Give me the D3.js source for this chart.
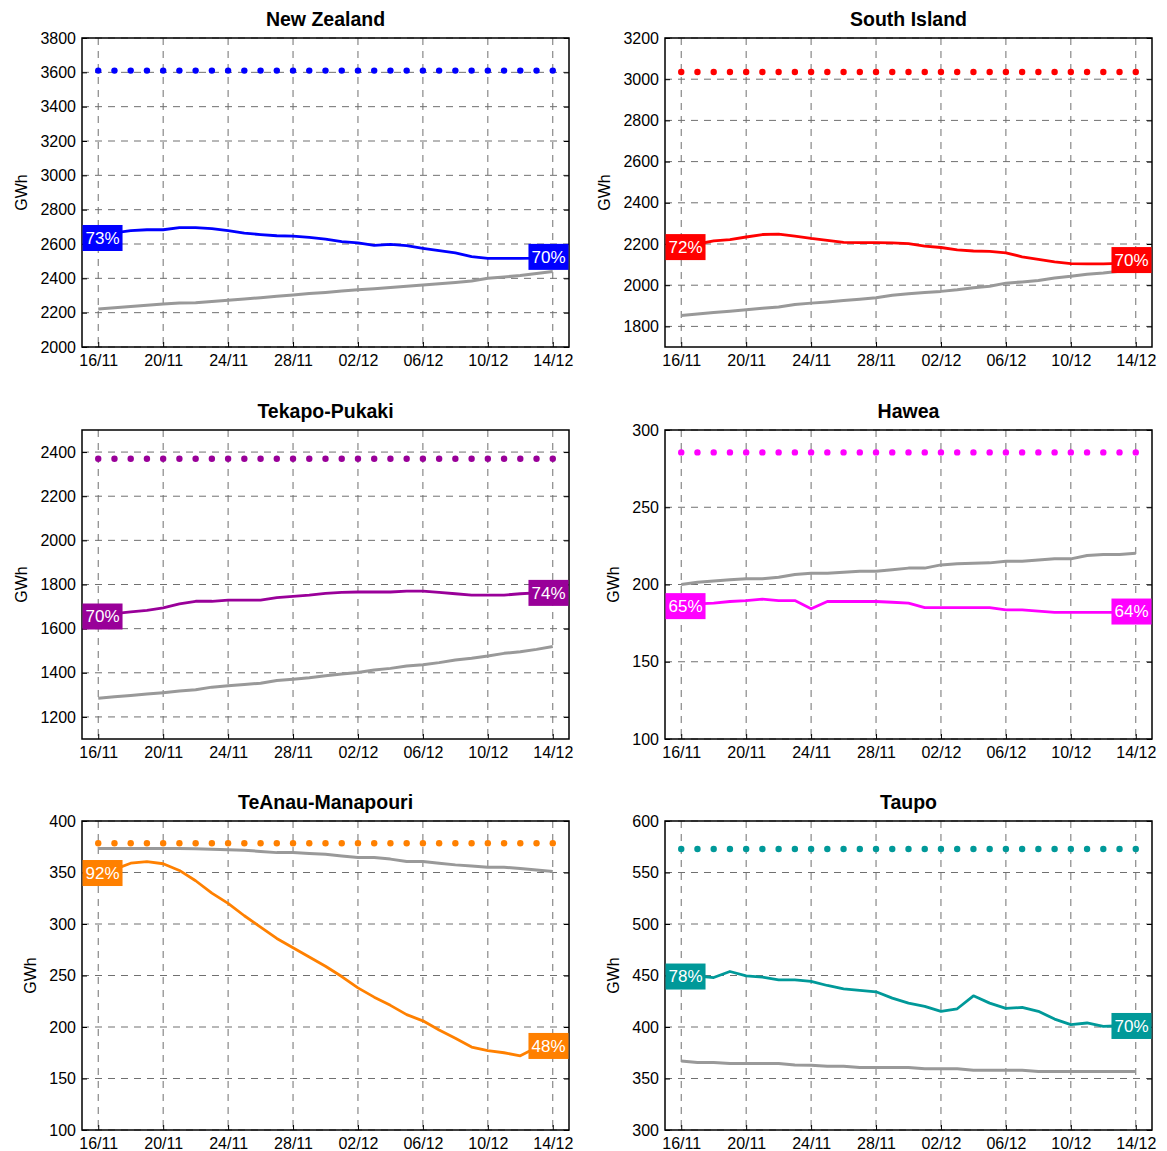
<!DOCTYPE html>
<html>
<head>
<meta charset="utf-8">
<script src="https://cdn.jsdelivr.net/npm/d3@7"></script>
<style>
  body { margin: 0; background: #fff; }
  svg { display: block; font-family: "Liberation Sans", Arial, sans-serif; }
</style>
</head>
<body>
<svg id="chart" width="1167" height="1151"></svg>
<script>
// Daily hydro storage (GWh), 16 Nov – 14 Dec
const dates = ["16/11","17/11","18/11","19/11","20/11","21/11","22/11","23/11","24/11","25/11",
  "26/11","27/11","28/11","29/11","30/11","01/12","02/12","03/12","04/12","05/12","06/12",
  "07/12","08/12","09/12","10/12","11/12","12/12","13/12","14/12"];
const tickDates = ["16/11","20/11","24/11","28/11","02/12","06/12","10/12","14/12"];

const regions = ["New Zealand","South Island","Tekapo-Pukaki","Hawea","TeAnau-Manapouri","Taupo"];
// Full storage capacity for each region (GWh)
const capacity = [3610, 3035, 2370, 285.5, 378.4, 572.8];

// Current storage
const storageNZ = [2635,2665,2678,2683,2683,2695,2695,2690,2678,2663,2655,2648,2646,2638,2628,2614,2607,2592,2598,2590,2575,2562,2548,2527,2516,2516,2516,2518,2525];
const storageSI = [2185,2200,2215,2221,2234,2246,2248,2238,2227,2218,2208,2207,2207,2205,2202,2190,2183,2171,2166,2164,2157,2138,2125,2113,2105,2104,2104,2106,2122];
const storageTP = [1655,1668,1676,1683,1694,1712,1724,1724,1729,1729,1729,1741,1746,1752,1760,1764,1766,1766,1766,1770,1770,1764,1758,1752,1752,1752,1758,1762,1762];
const storageHW = [186,187.5,188,189,189.6,190.5,189.6,189.6,184.3,189,189,189,189,188.5,187.9,185,185,185,185,185,183.6,183.6,182.7,181.9,181.9,181.9,181.9,181.9,182.5];
const storageTM = [349.5,353,359,360.5,358.5,352,342,330,320,308,297,286,277,268,259,249,238,229,221,212,206,197,189,180.5,177,175,172,180,181.6];
const storageTA = [449,449.5,448,453.9,449.7,448.4,445.8,445.8,444.2,440.3,437.1,435.5,434.2,428,423.2,420,415.2,417.7,430.3,423.2,418.1,419,415.2,407.7,402.3,403.9,400.6,401.2,401];

// Historical mean storage
const meanNZ = [2222,2229,2236,2243,2250,2257,2258,2265,2272,2280,2287,2295,2303,2311,2318,2326,2334,2340,2347,2354,2361,2368,2376,2385,2400,2408,2416,2428,2440];
const meanSI = [1853,1860,1867,1874,1881,1888,1894,1906,1913,1919,1926,1932,1939,1951,1958,1964,1970,1978,1988,1995,2010,2016,2023,2035,2043,2053,2059,2068,2078];
const meanTP = [1285,1291,1297,1304,1310,1317,1323,1335,1341,1347,1353,1365,1371,1378,1387,1394,1401,1413,1420,1431,1436,1446,1458,1466,1476,1488,1495,1506,1519];
const meanHW = [200,201.5,202.3,203,203.7,203.7,204.7,206.5,207.3,207.3,208,208.6,208.6,209.6,210.6,210.6,212.7,213.4,213.7,214,215,215,215.8,216.6,216.6,218.8,219.4,219.4,220.3];
const meanTM = [373.2,373.2,373.2,373.2,373.2,373.2,373,372.5,372,371.5,370.5,369.3,369.3,368.5,367.7,366,364.5,364.5,363,360.6,360.6,359,357.4,356.4,355.1,355.1,353.8,352.5,351];
const meanTA = [367,365.5,365.5,364.5,364.5,364.5,364.5,363.2,362.9,362,362,360.6,360.6,360.6,360.6,359.4,359.4,359.4,358.1,358.1,358.1,358.1,356.8,356.8,356.8,356.8,356.8,356.8,356.8];

// Axis ranges and tick values
const yDomains = [[2000,3800],[1700,3200],[1100,2500],[100,300],[100,400],[300,600]];
const yTicks = [
  [2000,2200,2400,2600,2800,3000,3200,3400,3600,3800],
  [1800,2000,2200,2400,2600,2800,3000,3200],
  [1200,1400,1600,1800,2000,2200,2400],
  [100,150,200,250,300],
  [100,150,200,250,300,350,400],
  [300,350,400,450,500,550,600]
];

const storage = [storageNZ, storageSI, storageTP, storageHW, storageTM, storageTA];
const means = [meanNZ, meanSI, meanTP, meanHW, meanTM, meanTA];
const colors = ["#0000ff","#ff0000","#990099","#ff00ff","#ff8000","#009999"];

// Panel grid layout
const colX = [82, 665];
const rowY = [38, 430, 821];
const W = 487, H = 309;

const svg = d3.select("#chart");

regions.forEach((name, i) => {
  const col = i % 2, row = Math.floor(i / 2);
  const g = svg.append("g").attr("transform", `translate(${colX[col]},${rowY[row]})`);
  const color = colors[i];

  const x = d3.scalePoint().domain(dates).range([0, W]).padding(1);
  const y = d3.scaleLinear().domain(yDomains[i]).range([H, 0]);

  // dashed grid
  const grid = g.append("g").attr("stroke", "#707070").attr("stroke-width", 1)
    .attr("stroke-dasharray", "7,6").attr("fill", "none");
  grid.selectAll("line.v").data(tickDates).join("line").attr("class", "v")
    .attr("x1", d => x(d)).attr("x2", d => x(d)).attr("y1", 0).attr("y2", H);
  grid.selectAll("line.h").data(yTicks[i]).join("line").attr("class", "h")
    .attr("x1", 0).attr("x2", W).attr("y1", d => y(d)).attr("y2", d => y(d));

  // axes with inward ticks
  const yAxis = g.append("g")
    .call(d3.axisLeft(y).tickValues(yTicks[i]).tickSize(-5).tickPadding(6).tickFormat(d3.format("d")));
  g.append("g").attr("transform", `translate(${W},0)`)
    .call(d3.axisRight(y).tickValues(yTicks[i]).tickSize(-5).tickFormat(""));
  g.append("g").attr("transform", `translate(0,${H})`)
    .call(d3.axisBottom(x).tickValues(tickDates).tickSize(-5).tickPadding(8));
  g.selectAll(".domain").remove();
  g.selectAll(".tick line").attr("stroke", "#000");
  g.selectAll(".tick text").attr("font-size", 16).attr("fill", "#000")
    .attr("font-family", '"Liberation Sans", Arial, sans-serif');

  // frame
  g.append("rect").attr("width", W).attr("height", H)
    .attr("fill", "none").attr("stroke", "#000").attr("stroke-width", 1.5);

  // title
  g.append("text").attr("x", W / 2).attr("y", -12.5).attr("text-anchor", "middle")
    .attr("font-size", 19.5).attr("font-weight", "bold").text(name);

  // unit label placed left of the widest tick label
  let maxW = 0;
  yAxis.selectAll(".tick text").each(function () { maxW = Math.max(maxW, this.getComputedTextLength()); });
  g.append("text")
    .attr("transform", `translate(${-(maxW + 6 + 19)},${H / 2}) rotate(-90)`)
    .attr("text-anchor", "middle").attr("dy", "0.35em").attr("font-size", 16).text("GWh");

  // capacity dots
  g.append("g").selectAll("circle").data(dates).join("circle")
    .attr("cx", d => x(d)).attr("cy", y(capacity[i])).attr("r", 3.2).attr("fill", color);

  const line = d3.line().x((d, k) => x(dates[k])).y(d => y(d));

  // historical mean
  g.append("path").datum(means[i]).attr("d", line)
    .attr("fill", "none").attr("stroke", "#999").attr("stroke-width", 3).attr("stroke-linejoin", "round");

  // current storage
  g.append("path").datum(storage[i]).attr("d", line)
    .attr("fill", "none").attr("stroke", color).attr("stroke-width", 2.8).attr("stroke-linejoin", "round");

  // percent-full labels at both ends
  const s = storage[i];
  const ends = [
    { v: s[0], align: "left" },
    { v: s[s.length - 1], align: "right" }
  ];
  ends.forEach(e => {
    const lg = g.append("g");
    const t = lg.append("text").attr("font-size", 17).attr("fill", "#fff")
      .attr("dy", "0.35em").text(Math.round(e.v / capacity[i] * 100) + "%");
    const tw = t.node().getComputedTextLength();
    const bw = tw + 6, bh = 26;
    const bx = e.align === "left" ? 0.5 : W - bw - 0.5;
    lg.insert("rect", "text").attr("x", bx).attr("y", y(e.v) - bh / 2)
      .attr("width", bw).attr("height", bh).attr("fill", color);
    t.attr("x", bx + 3).attr("y", y(e.v));
  });
});
</script>
</body>
</html>
